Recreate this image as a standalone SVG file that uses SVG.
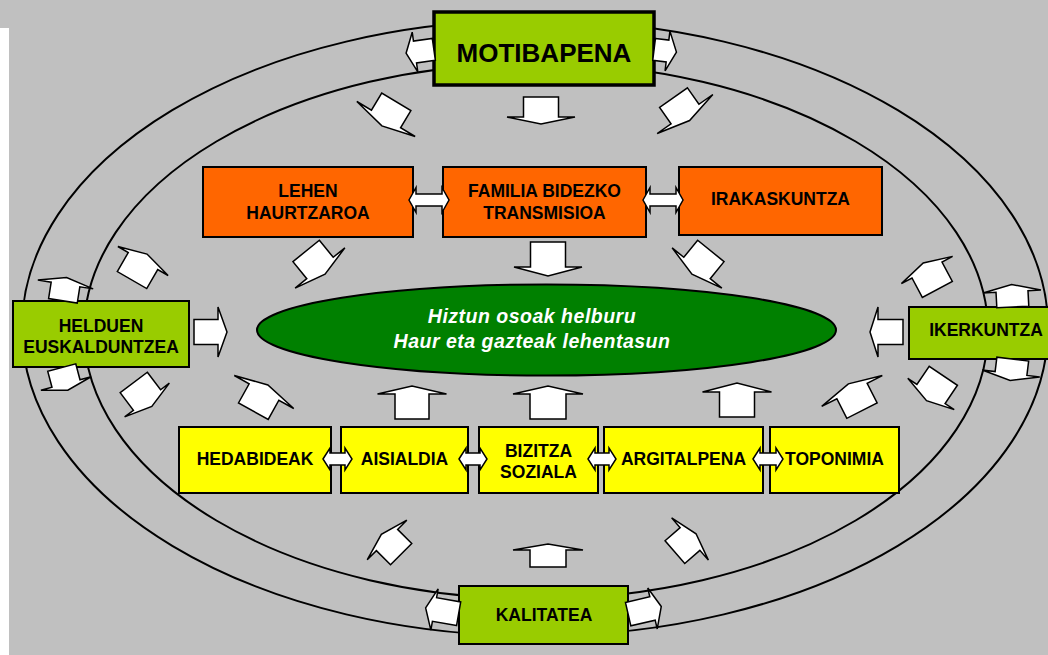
<svg xmlns="http://www.w3.org/2000/svg" width="1048" height="655" viewBox="0 0 1048 655">
<defs>
<style>
.ring{fill:none;stroke:#000;stroke-width:2}
.box{stroke:#000;stroke-width:2}
.lime{fill:#99CC00}
.orange{fill:#FF6600}
.yellow{fill:#FFFF00}
.arr{fill:#fff;stroke:#000;stroke-width:1.5;stroke-linejoin:miter}
.t{font-family:"Liberation Sans",Arial,sans-serif;font-weight:bold;font-size:17.5px;fill:#000;text-anchor:middle}
.big{font-size:26px}
.ti{font-family:"Liberation Sans",Arial,sans-serif;font-weight:bold;font-style:italic;font-size:19.5px;letter-spacing:0.5px;fill:#fff;text-anchor:middle}
</style>
</defs>
<rect x="0" y="0" width="1048" height="655" fill="#C0C0C0"/>
<rect x="0" y="28" width="9" height="627" fill="#fff"/>
<g id="rings">
<ellipse class="ring" cx="535" cy="328" rx="513" ry="308"/>
<ellipse class="ring" cx="536" cy="331" rx="452" ry="268"/>
</g>
<g id="nodes">
<g id="motibapena"><rect class="lime" x="434" y="12" width="220" height="73" stroke="#000" stroke-width="3.5"/><text class="t big" x="544" y="62">MOTIBAPENA</text></g>
<g id="lehen"><rect class="box orange" x="203" y="167" width="210" height="70"/><text class="t" x="308" y="197">LEHEN</text><text class="t" x="308" y="219">HAURTZAROA</text></g>
<g id="familia"><rect class="box orange" x="443" y="167" width="203" height="70"/><text class="t" x="544.5" y="197">FAMILIA BIDEZKO</text><text class="t" x="544.5" y="219">TRANSMISIOA</text></g>
<g id="irakaskuntza"><rect class="box orange" x="679" y="167" width="203" height="68"/><text class="t" x="780.5" y="205">IRAKASKUNTZA</text></g>
<g id="helduen"><rect class="box lime" x="13" y="301" width="176" height="66"/><text class="t" x="101" y="332">HELDUEN</text><text class="t" x="101" y="353">EUSKALDUNTZEA</text></g>
<g id="ikerkuntza"><rect class="box lime" x="909" y="307" width="150" height="52"/><text class="t" x="986" y="336">IKERKUNTZA</text></g>
<g id="kalitatea"><rect class="box lime" x="459" y="586" width="169" height="58"/><text class="t" x="544" y="621">KALITATEA</text></g>
<g id="helburu"><ellipse cx="546.5" cy="330" rx="289.5" ry="45.5" fill="#008000" stroke="#000" stroke-width="2"/><text class="ti" x="532" y="323">Hiztun osoak helburu</text><text class="ti" x="532" y="348">Haur eta gazteak lehentasun</text></g>
<g id="hedabideak"><rect class="box yellow" x="179" y="427" width="152" height="66"/><text class="t" x="255" y="465">HEDABIDEAK</text></g>
<g id="aisialdia"><rect class="box yellow" x="341" y="427" width="127" height="66"/><text class="t" x="404.5" y="465">AISIALDIA</text></g>
<g id="bizitza"><rect class="box yellow" x="479" y="427" width="119" height="66"/><text class="t" x="538.5" y="457">BIZITZA</text><text class="t" x="538.5" y="478">SOZIALA</text></g>
<g id="argitalpena"><rect class="box yellow" x="604" y="427" width="159" height="66"/><text class="t" x="683.5" y="465">ARGITALPENA</text></g>
<g id="toponimia"><rect class="box yellow" x="770" y="427" width="129" height="66"/><text class="t" x="834.5" y="465">TOPONIMIA</text></g>
</g>
<g id="connectors">
<polygon class="arr" transform="translate(415,52) rotate(-98)" points="-11,19 -11,0 -20,0 0,-9 20,0 11,0 11,19"/>
<polygon class="arr" transform="translate(667.5,51) rotate(97)" points="-11,13.5 -11,0 -20,0 0,-9 20,0 11,0 11,13.5"/>
<polygon class="arr" transform="translate(434.5,609.5) rotate(-80)" points="-12,24.5 -12,0 -21,0 0,-9 21,0 12,0 12,24.5"/>
<polygon class="arr" transform="translate(652.5,608.5) rotate(77)" points="-12,25 -12,0 -21,0 0,-9 21,0 12,0 12,25"/>
<polygon class="arr" transform="translate(65.5,284.5) rotate(9)" points="-14.5,16.5 -14.5,0 -28,0 0,-7 28,0 14.5,0 14.5,16.5"/>
<polygon class="arr" transform="translate(66,383.5) rotate(165)" points="-14.5,16.5 -14.5,0 -26,0 0,-7 26,0 14.5,0 14.5,16.5"/>
<polygon class="arr" transform="translate(1012,291.5) rotate(-3)" points="-16,15.5 -16,0 -29,0 0,-7 29,0 16,0 16,15.5"/>
<polygon class="arr" transform="translate(1011,373.5) rotate(187)" points="-16,14.5 -16,0 -29,0 0,-7 29,0 16,0 16,14.5"/>
<polygon class="arr" transform="translate(541,117) rotate(180)" points="-17.5,20 -17.5,0 -34,0 0,-7 34,0 17.5,0 17.5,20"/>
<polygon class="arr" transform="translate(386,119) rotate(211)" points="-17,20 -17,0 -34,0 0,-8 34,0 17,0 17,20"/>
<polygon class="arr" transform="translate(685,114) rotate(145)" points="-17,20 -17,0 -34,0 0,-8 34,0 17,0 17,20"/>
<polygon class="arr" transform="translate(320,268) rotate(141)" points="-17,22 -17,0 -32,0 0,-8 32,0 17,0 17,22"/>
<polygon class="arr" transform="translate(548,267) rotate(180)" points="-17.5,25 -17.5,0 -34,0 0,-9 34,0 17.5,0 17.5,25"/>
<polygon class="arr" transform="translate(697,268) rotate(219)" points="-17,22 -17,0 -32,0 0,-8 32,0 17,0 17,22"/>
<polygon class="arr" transform="translate(264,392) rotate(29)" points="-17,22 -17,0 -34,0 0,-8 34,0 17,0 17,22"/>
<polygon class="arr" transform="translate(412,394) rotate(0)" points="-17,25 -17,0 -34.5,0 0,-8 34.5,0 17,0 17,25"/>
<polygon class="arr" transform="translate(548,394) rotate(0)" points="-18,25 -18,0 -35,0 0,-8 35,0 18,0 18,25"/>
<polygon class="arr" transform="translate(737,392) rotate(0)" points="-17.5,25 -17.5,0 -34.5,0 0,-9 34.5,0 17.5,0 17.5,25"/>
<polygon class="arr" transform="translate(852,391) rotate(-27)" points="-17,22 -17,0 -34,0 0,-8 34,0 17,0 17,22"/>
<polygon class="arr" transform="translate(143,261) rotate(30)" points="-17,22 -17,0 -29,0 0,-8 29,0 17,0 17,22"/>
<polygon class="arr" transform="translate(147,400) rotate(143)" points="-17,22 -17,0 -28,0 0,-8 28,0 17,0 17,22"/>
<polygon class="arr" transform="translate(927,270) rotate(-28)" points="-17,22 -17,0 -29,0 0,-8 29,0 17,0 17,22"/>
<polygon class="arr" transform="translate(931,394) rotate(214)" points="-17,22 -17,0 -28,0 0,-8 28,0 17,0 17,22"/>
<polygon class="arr" transform="translate(387,540) rotate(-45)" points="-15,20 -15,0 -28,0 0,-8 28,0 15,0 15,20"/>
<polygon class="arr" transform="translate(548,550) rotate(0)" points="-18,17 -18,0 -35,0 0,-6 35,0 18,0 18,17"/>
<polygon class="arr" transform="translate(690,539) rotate(49)" points="-15,20 -15,0 -28,0 0,-8 28,0 15,0 15,20"/>
<polygon class="arr" transform="translate(218,332) rotate(90)" points="-12.5,24 -12.5,0 -25,0 0,-9 25,0 12.5,0 12.5,24"/>
<polygon class="arr" transform="translate(878,332) rotate(-90)" points="-12.5,25 -12.5,0 -25,0 0,-8 25,0 12.5,0 12.5,25"/>
<polygon class="arr" points="409,200 416,187.5 416,194 442,194 442,187.5 449,200 442,212.5 442,206 416,206 416,212.5"/>
<polygon class="arr" points="643,200 650,187.5 650,194 676,194 676,187.5 683,200 676,212.5 676,206 650,206 650,212.5"/>
<polygon class="arr" points="323,459 330,448 330,453 345,453 345,448 352,459 345,470 345,465 330,465 330,470"/>
<polygon class="arr" points="459,459 466,448 466,453 480,453 480,448 487,459 480,470 480,465 466,465 466,470"/>
<polygon class="arr" points="588,459 595,448 595,453 609,453 609,448 616,459 609,470 609,465 595,465 595,470"/>
<polygon class="arr" points="753,459 760,448 760,453 776,453 776,448 783,459 776,470 776,465 760,465 760,470"/>
</g>
</svg>
